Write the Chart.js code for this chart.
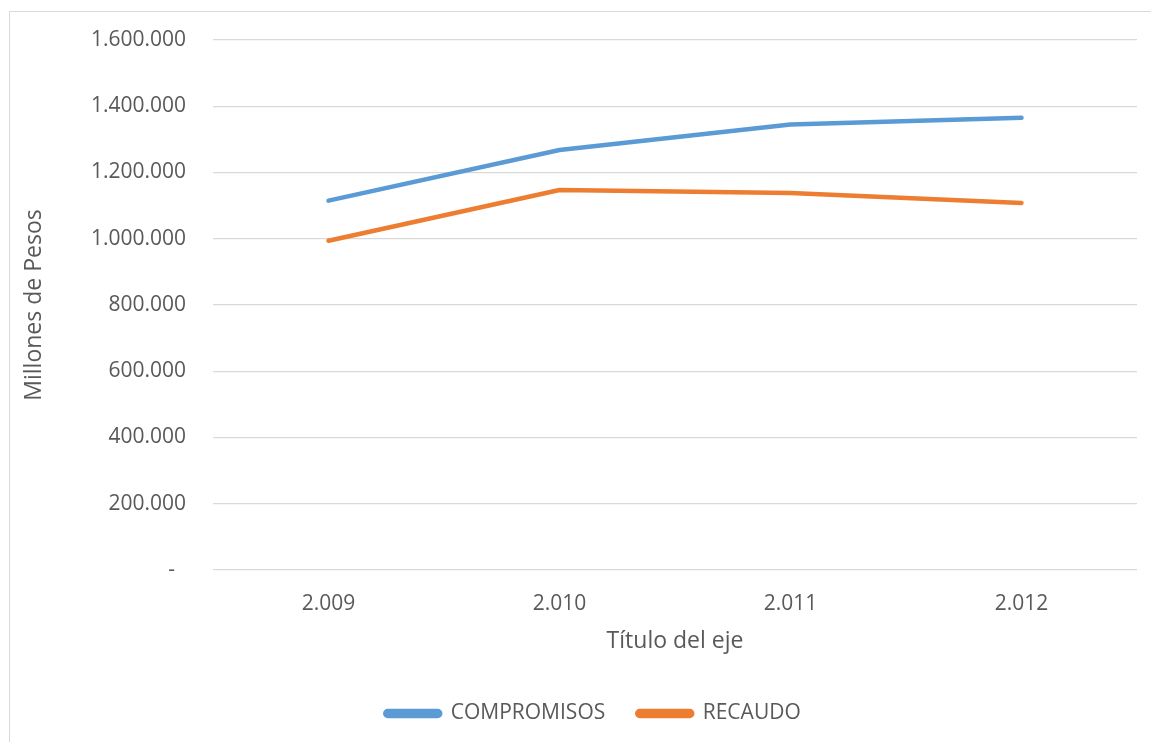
<!DOCTYPE html>
<html>
<head>
<meta charset="utf-8">
<title>Compromisos vs Recaudo</title>
<script src="https://cdn.jsdelivr.net/npm/chart.js@4.4.1/dist/chart.umd.min.js"></script>
<style>
  html, body { margin: 0; padding: 0; background: #fff; }
  canvas { display: block; }
</style>
</head>
<body>
<canvas id="lineChart" width="1151" height="742"></canvas>
<script>
// data
const years = ['2.009', '2.010', '2.011', '2.012'];
const compromisos = [1115000, 1268000, 1345000, 1365000];
const recaudo = [994000, 1147000, 1138000, 1108000];
const yTicks = [0, 200000, 400000, 600000, 800000, 1000000, 1200000, 1400000, 1600000];

const textColor = '#595959';
const gridColor = '#D9D9D9';

// thousands with dots, zero as a dash (accounting style)
function fmt(v) {
  if (v === 0) return '-  ';
  return String(v).replace(/\B(?=(\d{3})+(?!\d))/g, '.');
}

// white background + light frame like the spreadsheet chart box
const frame = {
  id: 'frame',
  afterLayout(chart) {
    // nudge legend a bit right/down to sit where the original one is
    chart.legend.left += 14;
    chart.legend.right += 14;
    chart.legend.top += 3;
    chart.legend.bottom += 3;
  },
  beforeDraw(chart) {
    const c = chart.ctx;
    c.save();
    c.fillStyle = '#fff';
    c.fillRect(0, 0, chart.width, chart.height);
    c.strokeStyle = gridColor;
    c.lineWidth = 1;
    c.strokeRect(9.5, 11.5, chart.width + 50, chart.height + 50);
    c.restore();
  }
};

const ctx = document.getElementById('lineChart').getContext('2d');

new Chart(ctx, {
  type: 'line',
  data: {
    labels: years,
    datasets: [{
      label: 'COMPROMISOS',
      data: compromisos,
      borderColor: '#5B9BD5',
      backgroundColor: '#5B9BD5',
      borderWidth: 4.5,
      borderCapStyle: 'round',
      borderJoinStyle: 'round',
      pointRadius: 0,
      tension: 0,
      fill: false
    }, {
      label: 'RECAUDO',
      data: recaudo,
      borderColor: '#ED7D31',
      backgroundColor: '#ED7D31',
      borderWidth: 4.5,
      borderCapStyle: 'round',
      borderJoinStyle: 'round',
      pointRadius: 0,
      tension: 0,
      fill: false
    }]
  },
  options: {
    responsive: false,
    animation: false,
    layout: {
      padding: { left: 21, top: 40, right: 14, bottom: 11 }
    },
    scales: {
      x: {
        offset: true,
        grid: { display: false },
        border: { display: false },
        ticks: {
          color: textColor,
          font: { family: 'Open Sans', size: 21 },
          padding: 13,
          maxRotation: 0
        },
        title: {
          display: true,
          text: 'Título del eje',
          color: textColor,
          font: { family: 'Open Sans', size: 23 },
          padding: { top: 0, bottom: 13 }
        },
        afterFit(scale) { scale.height = 98; }
      },
      y: {
        min: 0,
        max: 1600000,
        afterBuildTicks(scale) {
          scale.ticks = yTicks.map(v => ({ value: v }));
        },
        grid: {
          color: gridColor,
          lineWidth: 1.3,
          drawTicks: false
        },
        border: { display: false },
        ticks: {
          color: textColor,
          font: { family: 'Open Sans', size: 21 },
          padding: 27,
          callback: (v) => fmt(v)
        },
        title: {
          display: true,
          text: 'Millones de Pesos',
          color: textColor,
          font: { family: 'Open Sans', size: 23 },
          padding: { top: 0, bottom: 0 }
        },
        afterFit(scale) { scale.width = 192; }
      }
    },
    plugins: {
      legend: {
        position: 'bottom',
        labels: {
          color: textColor,
          font: { family: 'Open Sans', size: 21 },
          boxWidth: 55,
          boxHeight: 5,
          useBorderRadius: true,
          borderRadius: 2.5,
          padding: 32
        }
      },
      tooltip: { enabled: false }
    }
  },
  plugins: [frame]
});
</script>
</body>
</html>
